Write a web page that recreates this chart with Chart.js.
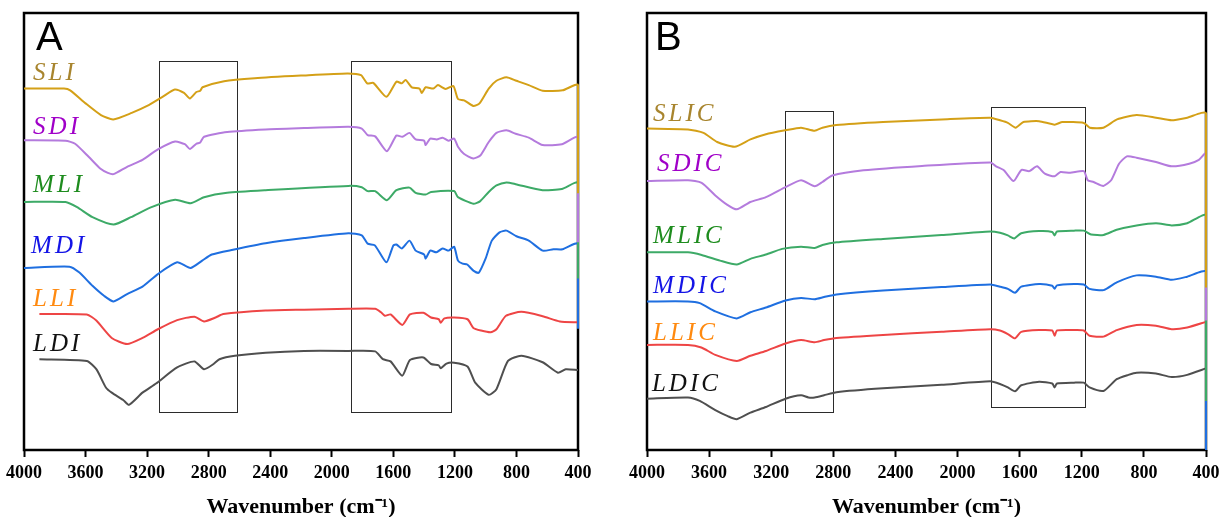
<!DOCTYPE html>
<html>
<head>
<meta charset="utf-8">
<script src="https://cdn.jsdelivr.net/npm/chart.js@4.4.1/dist/chart.umd.min.js"></script>
<style>
  html, body { margin: 0; background: #fff; overflow: hidden; }
  .panel { position: absolute; top: 0; }
</style>
</head>
<body>
<div class="panel" style="left:0"><canvas id="chartA" width="610" height="517"></canvas></div>
<div class="panel" style="left:610px"><canvas id="chartB" width="625" height="517"></canvas></div>
<script>
// ---- panel A spectra (wavenumber cm-1 / offset transmittance a.u.) ----
const wnSLI = [4000,3740,3700,3600,3500,3420,3300,3200,3100,3020,2960,2922,2880,2855,2840,2700,2500,2200,1900,1810,1770,1730,1645,1580,1545,1520,1480,1430,1415,1390,1340,1310,1260,1210,1180,1140,1080,1040,980,930,865,800,720,630,500,400,400];
const trSLI = [83.2,83.2,82.8,79.8,77.1,76.1,77.6,79.2,81.3,83.0,82.2,80.9,82.4,82.7,83.5,84.9,85.6,86.2,86.7,86.3,84.4,84.5,81.3,84.8,84.4,85.2,83.5,83.2,82.2,83.5,83.2,84.0,83.1,83.8,80.8,80.5,79.2,79.8,83.2,85.0,85.8,85.0,84.0,82.7,82.8,84.0,59.1];

const wnSDI = [4000,3730,3668,3580,3505,3455,3418,3330,3230,3130,3018,2955,2922,2880,2855,2830,2680,2430,2180,1892,1805,1767,1718,1642,1580,1542,1495,1455,1400,1390,1360,1318,1280,1242,1205,1180,1142,1080,1035,980,930,865,805,720,630,505,400,400];
const trSDI = [71.3,71.2,70.5,67.5,64.8,63.8,63.5,65.2,66.8,69.2,71.0,70.4,69.3,70.5,70.8,72.1,73.2,73.8,74.1,74.4,74.0,72.5,72.2,68.8,72.4,72.1,73.0,71.5,71.2,70.2,71.7,71.5,71.9,71.2,71.7,69.8,68.2,67.1,67.8,70.9,73.0,73.6,72.8,71.9,70.2,70.4,72.0,47.8];

const wnMLI = [4000,3730,3655,3555,3418,3305,3180,3018,2918,2830,2680,2430,1892,1805,1767,1718,1642,1580,1495,1455,1390,1355,1205,1180,1080,1035,980,930,865,805,630,505,400,400];
const trMLI = [57.1,57.1,55.9,53.6,51.9,53.6,55.8,57.6,56.8,58.2,59.2,59.8,60.8,60.5,59.6,59.6,57.5,59.8,60.4,59.2,58.8,59.4,59.6,58.2,56.7,57.3,59.4,60.9,61.6,61.2,59.8,60.1,61.5,39.5];

const wnMDI = [4000,3705,3642,3555,3480,3418,3330,3230,3130,3005,2918,2842,2780,2642,2430,2180,1892,1805,1767,1720,1645,1600,1580,1545,1495,1455,1400,1390,1360,1320,1280,1240,1205,1180,1150,1120,1080,1045,1000,960,910,865,800,720,630,560,500,400,400];
const trMDI = [41.9,42.2,40.9,37.8,35.5,34.2,35.9,37.6,40.5,43.2,41.9,43.6,45.0,46.1,47.6,48.8,49.9,49.4,47.5,47.1,43.2,47.1,47.3,46.4,48.2,45.9,45.0,44.1,45.9,45.5,46.4,45.9,46.8,43.6,42.9,42.7,41.3,40.8,44.1,48.2,50.1,50.5,49.2,48.2,45.9,46.2,46.2,47.5,27.9];

const wnLLI = [3900,3592,3530,3430,3330,3230,3130,3005,2892,2830,2755,2705,2430,2180,1892,1718,1680,1655,1618,1542,1492,1405,1355,1305,1292,1268,1205,1118,1080,1030,968,930,868,768,630,518,400];
const trLLI = [31.3,31.2,29.8,25.8,24.4,25.8,27.8,29.9,30.7,29.6,30.5,31.3,32.1,32.3,32.5,32.5,31.7,30.9,31.2,28.8,31.2,31.6,30.5,30.1,29.3,30.3,30.5,30.1,28.1,27.5,27.1,27.8,30.9,31.8,30.8,29.6,29.4];

const wnLDI = [3900,3592,3530,3468,3430,3355,3318,3230,3142,3005,2892,2830,2768,2730,2630,2430,2180,1892,1718,1668,1618,1542,1492,1405,1355,1305,1292,1255,1205,1118,1068,980,930,855,768,630,530,480,400];
const trLDI = [20.9,20.5,18.6,14.4,13.2,11.5,10.4,13.2,15.3,19.0,20.4,18.6,19.8,20.9,21.7,22.4,22.8,22.8,22.7,20.9,20.4,17.1,20.7,21.3,19.8,19.5,18.8,19.9,20.1,19.2,15.5,12.7,14.0,20.5,21.7,20.2,17.8,18.6,18.4];

// ---- panel B spectra ----
const wnSLIC = [4000,3736,3636,3548,3435,3334,3234,3108,3008,2920,2870,2782,2480,2103,1789,1727,1676,1626,1576,1475,1375,1325,1187,1149,1061,973,847,722,621,521,400,400];
const trSLIC = [74.0,73.8,73.0,70.9,69.8,71.5,72.7,73.6,74.2,73.5,74.2,74.8,75.5,76.1,76.5,75.9,75.3,74.2,75.5,75.7,74.9,75.5,75.3,74.2,74.2,76.1,77.1,76.5,75.9,76.5,77.5,37.4];

const wnSDIC = [4000,3736,3648,3560,3485,3422,3334,3234,3108,3008,2920,2870,2807,2606,2229,1789,1752,1702,1639,1588,1538,1488,1438,1375,1337,1275,1187,1162,1124,1061,1011,960,910,847,722,621,508,446,400,400];
const trSDIC = [61.9,62.1,61.5,58.6,56.5,55.4,57.1,58.2,60.5,62.1,60.7,61.7,63.2,64.4,65.4,66.2,65.3,64.4,61.9,64.5,64.2,65.3,63.6,63.0,64.0,63.8,64.2,62.1,61.7,60.8,62.1,65.9,67.6,67.3,66.3,65.3,65.9,66.8,68.3,29.8];

const wnMLIC = [4000,3736,3648,3530,3422,3334,3234,3130,3008,2920,2870,2780,2480,2103,1789,1727,1676,1635,1590,1475,1390,1375,1360,1250,1187,1140,1060,975,847,722,621,521,400,400];
const trMLIC = [45.5,45.5,44.9,43.6,42.7,44.0,45.0,46.3,46.8,46.5,47.2,47.8,48.6,49.5,50.3,50.0,49.4,48.7,49.9,50.4,50.2,49.4,50.3,50.5,50.5,49.6,49.5,50.7,51.7,52.2,51.7,52.2,54.0,11.3];

const wnMDIC = [4000,3736,3660,3560,3422,3334,3234,3108,3008,2920,2860,2780,2480,2103,1789,1727,1676,1630,1590,1475,1390,1375,1360,1250,1187,1150,1060,975,847,722,621,521,400,400];
const trMDIC = [34.2,34.2,33.8,31.9,30.3,31.7,32.8,34.4,35.0,34.7,35.2,35.8,36.7,37.5,38.1,37.6,37.1,36.2,37.6,38.2,37.8,37.1,37.9,38.2,38.1,37.1,36.8,38.6,40.2,39.9,39.2,39.9,41.0,0];

const wnLLIC = [4000,3736,3650,3560,3422,3334,3234,3108,3008,2920,2860,2780,2480,2103,1789,1727,1676,1630,1590,1475,1390,1375,1360,1250,1187,1150,1060,975,847,722,621,521,400];
const trLLIC = [24.2,24.2,23.6,21.9,20.5,21.7,22.8,24.5,25.3,24.8,25.3,25.8,26.5,27.2,27.8,27.5,26.7,25.7,27.2,27.6,27.5,26.3,27.5,27.6,27.5,26.3,26.1,27.6,28.8,28.6,27.8,28.2,29.5];

const wnLDIC = [4000,3736,3660,3560,3480,3422,3334,3234,3108,3008,2960,2920,2860,2780,2480,2103,1789,1727,1676,1630,1590,1475,1390,1375,1360,1250,1187,1150,1060,975,900,847,722,621,521,400];
const trLDIC = [11.8,12.1,11.3,9.2,7.8,7.1,8.6,9.9,11.8,12.6,12.1,12.1,12.6,13.3,14.2,15.0,15.8,15.2,14.4,13.5,14.9,15.7,15.3,14.4,15.3,15.5,15.5,14.4,13.6,16.3,17.3,17.8,17.6,16.8,17.3,18.8];

// highlighted regions (wavenumber from/to)
const regionsA = [[3121, 2613], [1878, 1227]];
const regionsB = [[3111, 2802], [1785, 1179]];

const xTicks = [4000,3600,3200,2800,2400,2000,1600,1200,800,400];

// colours
const lineCol = { S_L: '#D4A017', S_D: '#B47BDD', M_L: '#3DAA67', M_D: '#1F6FE0', L_L: '#EE4545', L_D: '#4F4F4F' };
const textCol = { S_L: '#A8852E', S_D: '#A000C8', M_L: '#1E8C1E', M_D: '#1414E6', L_L: '#FF8A10', L_D: '#111111' };

function toXY(wn, tr) { return wn.map((w, i) => ({ x: w, y: tr[i] })); }

// frame, region boxes, curve names and panel letter
const decor = {
  id: 'decor',
  beforeDatasetsDraw(chart, args, opts) {
    const { ctx, chartArea: a, scales: { x, y } } = chart;
    ctx.save();
    ctx.strokeStyle = '#2b2b2b';
    ctx.lineWidth = 1;
    opts.regions.forEach(r => {
      const x1 = x.getPixelForValue(r[0]), x2 = x.getPixelForValue(r[1]);
      const y1 = y.getPixelForValue(r[2]), y2 = y.getPixelForValue(r[3]);
      ctx.strokeRect(Math.round(x1) + 0.5, Math.round(y1) + 0.5, Math.round(x2 - x1), Math.round(y2 - y1));
    });
    ctx.strokeStyle = '#000';
    ctx.lineWidth = 2.5;
    ctx.strokeRect(a.left, a.top, a.right - a.left, a.bottom - a.top);
    ctx.restore();
  },
  afterDatasetsDraw(chart, args, opts) {
    const { ctx, chartArea: a, scales: { x, y } } = chart;
    ctx.save();
    ctx.font = '40px "Liberation Sans"';
    ctx.fillStyle = '#000';
    ctx.textBaseline = 'alphabetic';
    ctx.fillText(opts.letter, a.left + opts.letterDx, 50);
    ctx.font = 'italic 25px "Liberation Serif"';
    ctx.letterSpacing = '3px';
    ctx.textBaseline = 'middle';
    opts.names.forEach(n => {
      ctx.fillStyle = n.color;
      ctx.fillText(n.text, x.getPixelForValue(n.at[0]), y.getPixelForValue(n.at[1]));
    });
    ctx.restore();
  }
};

function makePanel(id, series, names, regions, letter, letterDx, padL, padR) {
  const datasets = series.map(s => ({
    label: s.label,
    data: toXY(s.wn, s.tr),
    borderColor: s.color,
    borderWidth: 2,
    pointRadius: 0,
    tension: 0.2,
    clip: 4,
    fill: false
  }));
  return new Chart(document.getElementById(id), {
    type: 'line',
    data: { datasets },
    options: {
      responsive: false,
      animation: false,
      layout: { padding: { left: padL, right: padR, top: 13, bottom: 0 } },
      plugins: {
        legend: { display: false },
        tooltip: { enabled: false },
        decor: { regions, names, letter, letterDx }
      },
      scales: {
        x: {
          type: 'linear', reverse: true, min: 400, max: 4000,
          afterBuildTicks: s => { s.ticks = xTicks.map(v => ({ value: v })); },
          ticks: {
            color: '#000', padding: 6, maxRotation: 0, autoSkip: false,
            font: { family: 'Liberation Serif', weight: 'bold', size: 18 },
            callback: v => String(v)
          },
          grid: { display: true, drawOnChartArea: false, drawTicks: true, tickLength: 7, tickWidth: 2, tickColor: '#000' },
          border: { display: false },
          title: {
            display: true, text: 'Wavenumber (cm\u207B\u00B9)', color: '#000',
            font: { family: 'Liberation Serif', weight: 'bold', size: 22, lineHeight: 1 },
            padding: { top: 0, bottom: -1 }
          },
          afterFit: s => { s.height = 67; }
        },
        y: { display: false, min: 0, max: 100.6 }
      }
    },
    plugins: [decor]
  });
}

makePanel('chartA', [
  { label: 'SLI', wn: wnSLI, tr: trSLI, color: lineCol.S_L },
  { label: 'SDI', wn: wnSDI, tr: trSDI, color: lineCol.S_D },
  { label: 'MLI', wn: wnMLI, tr: trMLI, color: lineCol.M_L },
  { label: 'MDI', wn: wnMDI, tr: trMDI, color: lineCol.M_D },
  { label: 'LLI', wn: wnLLI, tr: trLLI, color: lineCol.L_L },
  { label: 'LDI', wn: wnLDI, tr: trLDI, color: lineCol.L_D }
], [
  { text: 'SLI', at: [3941, 86.8], color: textCol.S_L },
  { text: 'SDI', at: [3941, 74.3], color: textCol.S_D },
  { text: 'MLI', at: [3941, 60.9], color: textCol.M_L },
  { text: 'MDI', at: [3954, 46.8], color: textCol.M_D },
  { text: 'LLI', at: [3941, 34.6], color: textCol.L_L },
  { text: 'LDI', at: [3941, 24.2], color: textCol.L_D }
], regionsA.map(r => [r[0], r[1], 89.5, 8.8]), 'A', 12, 24, 32);

makePanel('chartB', [
  { label: 'SLIC', wn: wnSLIC, tr: trSLIC, color: lineCol.S_L },
  { label: 'SDIC', wn: wnSDIC, tr: trSDIC, color: lineCol.S_D },
  { label: 'MLIC', wn: wnMLIC, tr: trMLIC, color: lineCol.M_L },
  { label: 'MDIC', wn: wnMDIC, tr: trMDIC, color: lineCol.M_D },
  { label: 'LLIC', wn: wnLLIC, tr: trLLIC, color: lineCol.L_L },
  { label: 'LDIC', wn: wnLDIC, tr: trLDIC, color: lineCol.L_D }
], [
  { text: 'SLIC', at: [3961, 77.3], color: textCol.S_L },
  { text: 'SDIC', at: [3936, 65.8], color: textCol.S_D },
  { text: 'MLIC', at: [3961, 49.2], color: textCol.M_L },
  { text: 'MDIC', at: [3961, 37.6], color: textCol.M_D },
  { text: 'LLIC', at: [3961, 26.8], color: textCol.L_L },
  { text: 'LDIC', at: [3968, 15.0], color: textCol.L_D }
], [[regionsB[0][0], regionsB[0][1], 78.0, 8.8], [regionsB[1][0], regionsB[1][1], 78.9, 9.9]], 'B', 8, 37, 29);
</script>
</body>
</html>
